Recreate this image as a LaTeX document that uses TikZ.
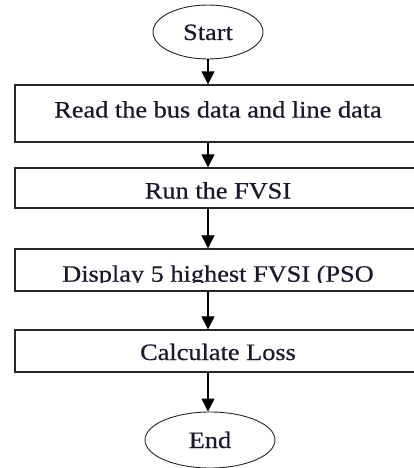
\documentclass[tikz,border=0pt]{standalone}
\usepackage{fontspec}
\setmainfont{Liberation Serif}[FakeStretch=1.12,FakeBold=0.5]
\usetikzlibrary{shapes.geometric,arrows.meta}
\definecolor{ink}{RGB}{25,25,45}
\begin{document}
\begin{tikzpicture}[x=1pt,y=-1pt,
  every node/.style={font=\fontsize{23.5}{28}\selectfont, text=ink},
  stepbox/.style={draw=black!85, line width=1.3pt, minimum width=406pt, inner sep=0pt},
  term/.style={draw=black!85, line width=0.9pt, ellipse, inner sep=0pt, text height=16pt, text depth=0pt},
  flow/.style={draw=black, line width=1.1pt, -{Triangle[width=13pt,length=13pt]}}]
\useasboundingbox (0,0) rectangle (414,468);
\clip (0,0) rectangle (414,468);
\fill[white] (0,0) rectangle (414,468);
\node[term, minimum width=110pt, minimum height=54pt] (start) at (208,32) {Start};
\node[stepbox, minimum height=57pt, text height=16pt, text depth=8pt] (read) at (218,113.5) {Read the bus data and line data};
\node[stepbox, minimum height=40pt, text height=21pt, text depth=0pt] (run) at (218,188) {Run the FVSI};
\node[stepbox, minimum height=42pt, text height=23.4pt, text depth=0pt] (disp) at (218,270) {Display 5 highest FVSI (PSO};
\fill[white] (16,282.6) rectangle (414,290.2);
\node[stepbox, minimum height=42pt, text height=18pt, text depth=0pt] (calc) at (218,351) {Calculate Loss};
\node[term, minimum width=130pt, minimum height=56pt] (end) at (210,440) {End};
\draw[flow] (start.south) -- (start.south |- read.north);
\draw[flow] (read.south -| start) -- (run.north -| start);
\draw[flow] (run.south -| start) -- (disp.north -| start);
\draw[flow] (disp.south -| start) -- (calc.north -| start);
\draw[flow] (calc.south -| start) -- (start |- end.north);
\end{tikzpicture}
\end{document}
